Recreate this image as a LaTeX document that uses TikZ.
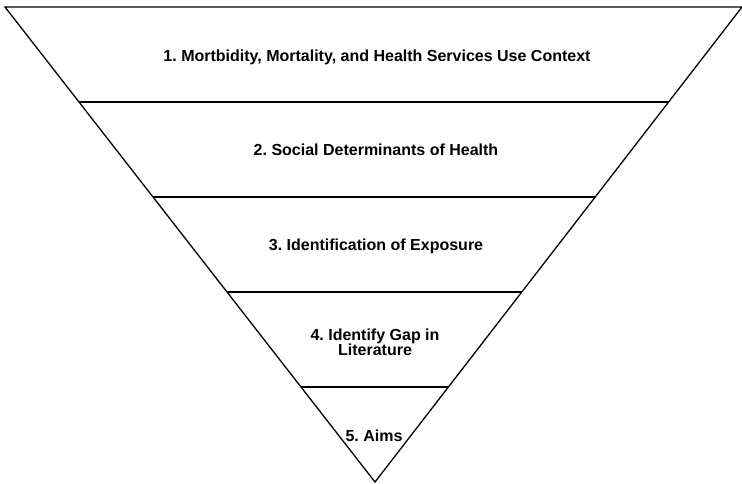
\documentclass[tikz,border=0pt]{standalone}
\usepackage{fontspec}
\setmainfont{Liberation Sans}
\usetikzlibrary{calc}
\frenchspacing
\begin{document}
\begin{tikzpicture}[x=1pt,y=-1pt,
  edge/.style={line width=1.3pt,black},
  label/.style={font=\fontsize{16}{15.7}\selectfont\bfseries,align=center,inner sep=0pt,anchor=base}]
\useasboundingbox (0,0) rectangle (742,483);
% corners of the inverted triangle
\coordinate (tl) at (5,7);
\coordinate (tr) at (742,7);
\coordinate (apex) at (375,482);
\draw[edge,line join=miter] (tl) -- (tr) -- (apex) -- cycle;
% band dividers
\foreach \i/\yy in {1/102,2/197,3/292,4/387}{
  \coordinate (l\i) at ($(tl)!{(\yy-7)/475}!(apex)$);
  \coordinate (r\i) at ($(tr)!{(\yy-7)/475}!(apex)$);
  \draw[edge] (l\i) -- (r\i);
}
\node[label] (t1) at (377,61) {1. Mortbidity, Mortality, and Health Services Use Context};
\node[label] (t2) at (376,155) {2. Social Determinants of Health};
\node[label] (t3) at (376,250) {3. Identification of Exposure};
\node[label] (t4) at (375,355.7) {4. Identify Gap in\\Literature};
\node[label] (t5) at (374,441) {5. Aims};
\end{tikzpicture}
\end{document}
